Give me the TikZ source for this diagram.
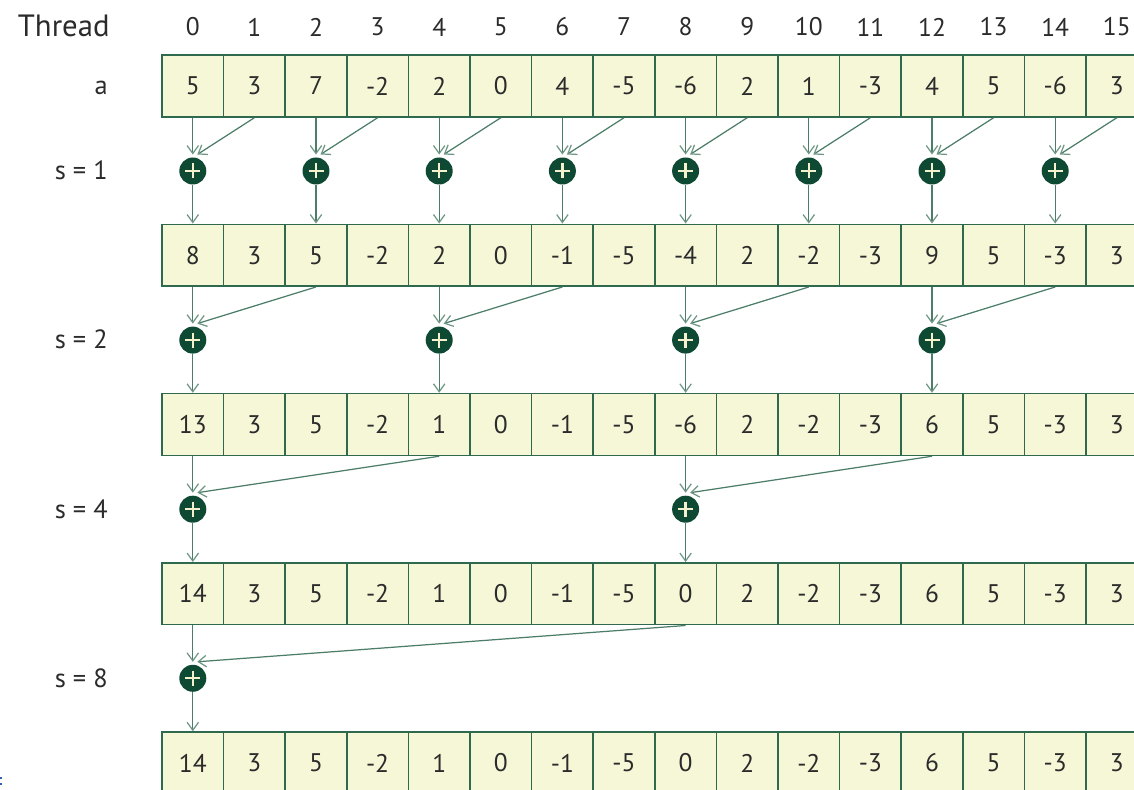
\documentclass[tikz,border=0pt]{standalone}
\usepackage{fontspec}
\setmainfont{PT Sans}
\usetikzlibrary{arrows.meta}
\definecolor{cellfill}{HTML}{F6F7D7}
\definecolor{cellline}{HTML}{2F6A4E}
\definecolor{arrowc}{HTML}{4C7D68}
\definecolor{arrowtip}{HTML}{6F9786}
\definecolor{circfill}{HTML}{0E4A33}
\definecolor{plusc}{HTML}{F4F1CC}
\definecolor{txt}{HTML}{2B2B2B}
\definecolor{dotc}{HTML}{3060B0}
\begin{document}
\begin{tikzpicture}[x=0.02cm,y=-0.02cm,
  cell/.style={draw=cellline, fill=cellfill, line width=0.85pt,
    minimum width=1.232cm, minimum height=1.24cm, inner sep=0pt,
    text=txt, font=\fontsize{14.5}{17}\selectfont},
  pluscirc/.style={circle, fill=circfill, minimum size=0.54cm, inner sep=0pt},
  plusmark/.style={draw=plusc, line width=1.3pt},
  conn/.style={draw=arrowc, line width=0.7pt, -{Straight Barb[length=4.5pt,width=6.5pt,color=arrowtip]}},
  lab/.style={anchor=east, inner sep=0pt, text=txt, font=\fontsize{15}{18}\selectfont},
  headlab/.style={inner sep=0pt, text=txt, font=\fontsize{14.5}{17}\selectfont}]
\path[use as bounding box, clip] (0,0) rectangle (1134,790);
\fill[white] (0,0) rectangle (1134,790);
% labels
\node[lab, font=\fontsize{17.5}{20}\selectfont] (thr) at (110,26) {Thread};
\node[lab] (la) at (108,88) {a};
\node[lab] (s1) at (108,170) {s = 1};
\node[lab] (s2) at (108,339) {s = 2};
\node[lab] (s4) at (108,509) {s = 4};
\node[lab] (s8) at (108,678) {s = 8};
\foreach \i in {0,...,15} {
  \node[headlab] (t\i) at ({192.8+61.6*\i},27) {\i};
}
% cells
\foreach \r/\vals in {
  1/{5,3,7,-2,2,0,4,-5,-6,2,1,-3,4,5,-6,3},
  2/{8,3,5,-2,2,0,-1,-5,-4,2,-2,-3,9,5,-3,3},
  3/{13,3,5,-2,1,0,-1,-5,-6,2,-2,-3,6,5,-3,3},
  4/{14,3,5,-2,1,0,-1,-5,0,2,-2,-3,6,5,-3,3},
  5/{14,3,5,-2,1,0,-1,-5,0,2,-2,-3,6,5,-3,3}} {
  \foreach \v [count=\i from 0] in \vals {
    \node[cell] (c-\r-\i) at ({192.8+61.6*\i},{86+169.25*(\r-1)}) {\v};
  }
}
% reduction steps
\foreach \r/\s/\lst in {1/1/{0,2,4,6,8,10,12,14},2/2/{0,4,8,12},3/4/{0,8},4/8/{0}} {
  \pgfmathtruncatemacro\nr{\r+1}
  \pgfmathsetmacro\cy{171+169.1*(\r-1)}
  \foreach \i in \lst {
    \pgfmathtruncatemacro\j{\i+\s}
    \pgfmathsetmacro\cx{192.8+61.6*\i}
    \node[pluscirc] (p-\r-\i) at (\cx,\cy) {};
    \draw[plusmark] (\cx-7.5,\cy) -- (\cx+7.5,\cy) (\cx,\cy-7.5) -- (\cx,\cy+7.5);
    \coordinate (d-\r-\i) at (\cx+4.5,\cy-16.5);
    \draw[conn, shorten >=1.5pt] (c-\r-\i.south) -- (p-\r-\i.north);
    \draw[conn] (c-\r-\j.south) -- (d-\r-\i);
    \draw[conn] (p-\r-\i.south) -- (c-\nr-\i.north);
  }
}
% stray marks at bottom-left
\fill[dotc] (0,777) rectangle (2.5,779.5);
\fill[dotc] (0,783) rectangle (2.5,785.5);
\end{tikzpicture}
\end{document}
